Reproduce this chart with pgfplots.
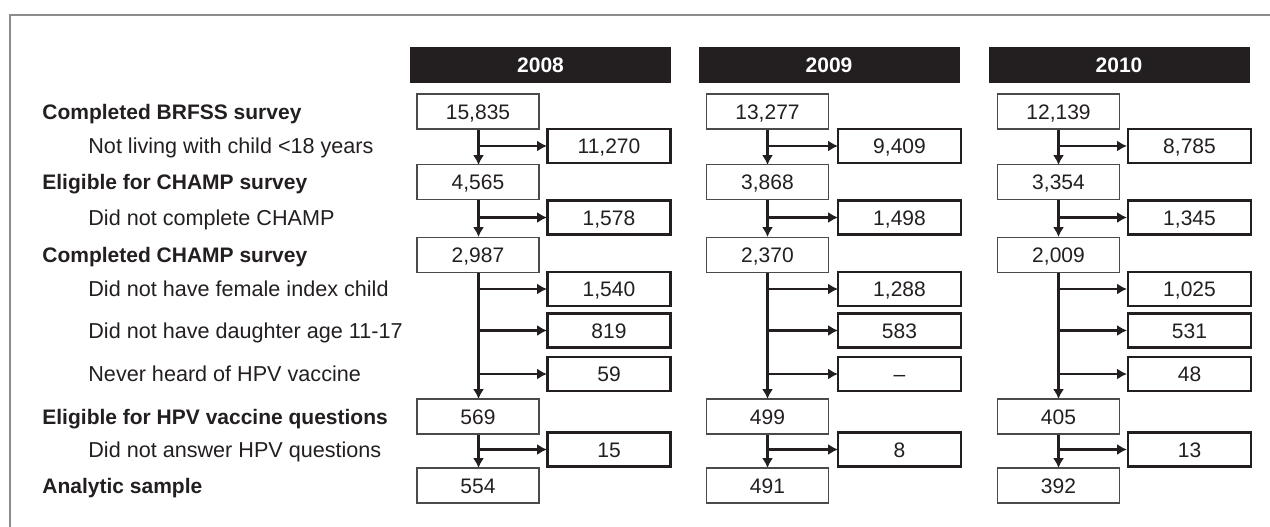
\documentclass[border=0pt]{standalone}
\usepackage{fontspec}
\setmainfont{Liberation Sans}
\usepackage{pgfplots}
\usepackage{pgfplotstable}
\pgfplotsset{compat=1.18}
\usetikzlibrary{arrows.meta}

\definecolor{ink}{HTML}{231F20}
\definecolor{framegray}{HTML}{8C8C8C}
\definecolor{mainedge}{HTML}{4A4A4A}
\newcommand\fs{\fontsize{10.5bp}{12.6bp}\selectfont}
\newcommand\fsl{\fontsize{10.8bp}{13bp}\selectfont}

\pgfplotstableread[col sep=semicolon]{
x;y;label
540.5;65;2008
829;65;2009
1119;65;2010
}\headers

\pgfplotstableread[col sep=semicolon]{
x;y;label
478;111.5;15,835
478;182;4,565
478;255;2,987
478;416.5;569
478;485.5;554
767.5;111.5;13,277
767.5;182;3,868
767.5;255;2,370
767.5;416.5;499
767.5;485.5;491
1058.5;111.5;12,139
1058.5;182;3,354
1058.5;255;2,009
1058.5;416.5;405
1058.5;485.5;392
}\mainboxes

\pgfplotstableread[col sep=semicolon]{
x;y;label
609;146;11,270
609;217.5;1,578
609;289;1,540
609;330.5;819
609;374;59
609;449.5;15
899.5;146;9,409
899.5;217.5;1,498
899.5;289;1,288
899.5;330.5;583
899.5;374;–
899.5;449.5;8
1189.5;146;8,785
1189.5;217.5;1,345
1189.5;289;1,025
1189.5;330.5;531
1189.5;374;48
1189.5;449.5;13
}\sideboxes

\pgfplotstableread[col sep=semicolon]{
x;y;label
42;111.5;Completed BRFSS survey
42;182;Eligible for CHAMP survey
42;255;Completed CHAMP survey
42;416.5;Eligible for HPV vaccine questions
42;485.5;Analytic sample
}\steplabels

\pgfplotstableread[col sep=semicolon]{
x;y;label
88;146;Not living with child <18 years
88;217.5;Did not complete CHAMP
88;289;Did not have female index child
88;330.5;Did not have daughter age 11-17
88;374;Never heard of HPV vaccine
88;449.5;Did not answer HPV questions
}\exclabels

\pgfplotsset{
  arr/.style={ink, line width=1.3bp, -{Latex[length=5bp,width=5.6bp]}, mark=none},
  txt/.style={draw=none, mark=none, point meta=explicit symbolic,
    nodes near coords={\pgfplotspointmeta}, nodes near coords align={center}},
}

\newcommand\flow[2]{%
  \addplot[arr] coordinates {(#1,129) (#1,165)};
  \addplot[arr] coordinates {(#1,199) (#1,237)};
  \addplot[arr] coordinates {(#1,273) (#1,399)};
  \addplot[arr] coordinates {(#1,434) (#1,468)};
  \addplot[arr] coordinates {(#1,146) (#2,146)};
  \addplot[arr] coordinates {(#1,217.5) (#2,217.5)};
  \addplot[arr] coordinates {(#1,289) (#2,289)};
  \addplot[arr] coordinates {(#1,330.5) (#2,330.5)};
  \addplot[arr] coordinates {(#1,374) (#2,374)};
  \addplot[arr] coordinates {(#1,449.5) (#2,449.5)};
}

\begin{document}
\begin{tikzpicture}
\useasboundingbox (0,0) rectangle (635bp,263.5bp);
\begin{axis}[at={(0,0)}, anchor=south west, scale only axis,
  width=635bp, height=263.5bp,
  xmin=0, xmax=1270, ymin=0, ymax=527, y dir=reverse,
  enlargelimits=false, hide axis]

\addplot[framegray, line width=1.4bp, mark=none] coordinates {(1300,15) (10,15) (10,560)};

\flow{478.5}{547}
\flow{767.5}{838}
\flow{1058.5}{1127}

\addplot[txt, every node near coord/.append style={anchor=center, fill=ink, text=white,
   font=\fs\bfseries, minimum width=130.5bp, minimum height=18bp, inner sep=0pt,
   text height=7.5bp, text depth=0pt}]
   table[x=x, y=y, meta=label]{\headers};

\addplot[txt, every node near coord/.append style={anchor=center, draw=mainedge, fill=white,
   line width=0.6bp, text=ink, font=\fs,
   minimum width=61bp, minimum height=17.5bp, inner sep=0pt,
   text height=7.5bp, text depth=0pt}]
   table[x=x, y=y, meta=label]{\mainboxes};

\addplot[txt, every node near coord/.append style={anchor=center, draw=ink, fill=white,
   line width=1.3bp, text=ink, font=\fs,
   minimum width=61.5bp, minimum height=17bp, inner sep=0pt,
   text height=7.5bp, text depth=0pt}]
   table[x=x, y=y, meta=label]{\sideboxes};

\addplot[txt, every node near coord/.append style={anchor=west, text=ink, font=\fs\bfseries,
   inner sep=0pt, text height=7.5bp, text depth=0pt}]
   table[x=x, y=y, meta=label]{\steplabels};

\addplot[txt, every node near coord/.append style={anchor=west, text=ink, font=\fsl,
   inner sep=0pt, text height=7.7bp, text depth=0pt}]
   table[x=x, y=y, meta=label]{\exclabels};

\end{axis}
\end{tikzpicture}
\end{document}
